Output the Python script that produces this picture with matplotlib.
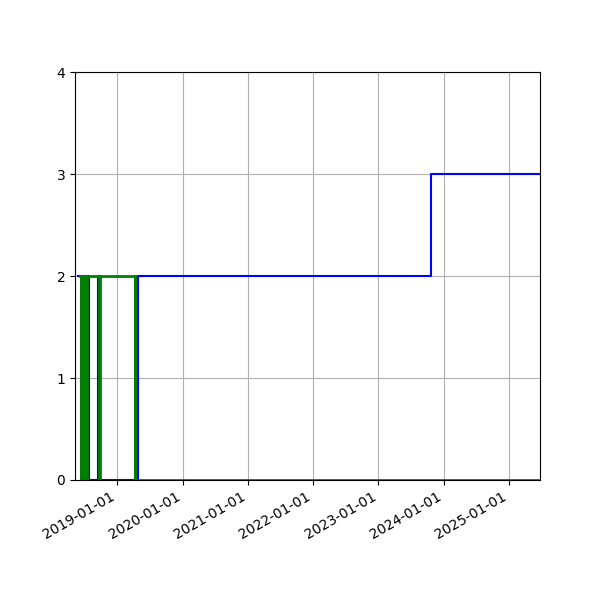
import pandas as pd
import matplotlib
matplotlib.use("Agg")
import matplotlib.pyplot as plt
import matplotlib.dates as mdates

# blue series (step, post)
blue_dates = ["2018-05-27", "2018-07-26", "2018-09-16", "2018-09-24",
              "2019-04-24", "2023-10-22", "2025-06-23"]
blue_values = [2, 0, 2, 0, 2, 3, 3]

# green series (step, post)
green_dates = ["2018-06-07", "2018-06-10", "2018-06-13", "2018-06-16", "2018-06-19",
               "2018-06-22", "2018-06-25", "2018-06-28", "2018-07-01", "2018-07-04",
               "2018-07-07", "2018-07-10", "2018-07-13", "2018-09-22", "2018-09-26",
               "2019-04-07", "2019-04-09", "2019-04-11", "2025-06-23"]
green_values = [2, 0, 2, 0, 2,
                0, 2, 0, 2, 0,
                2, 0, 2, 0, 2,
                0, 2, 0, 0]

x_start = "2018-05-09"
x_end = "2025-06-23"

fig, ax = plt.subplots(figsize=(6, 6), dpi=100)

ax.step(pd.to_datetime(blue_dates), blue_values, where="post", color="blue", linewidth=1.5)
ax.step(pd.to_datetime(green_dates), green_values, where="post", color="green", linewidth=2)

ax.set_xlim(pd.Timestamp(x_start), pd.Timestamp(x_end))
ax.set_ylim(0, 4)
ax.set_yticks([0, 1, 2, 3, 4])
ax.xaxis.set_major_locator(mdates.YearLocator())
ax.xaxis.set_major_formatter(mdates.DateFormatter("%Y-%m-%d"))
ax.grid(True)

fig.autofmt_xdate()
plt.savefig("out.png")
